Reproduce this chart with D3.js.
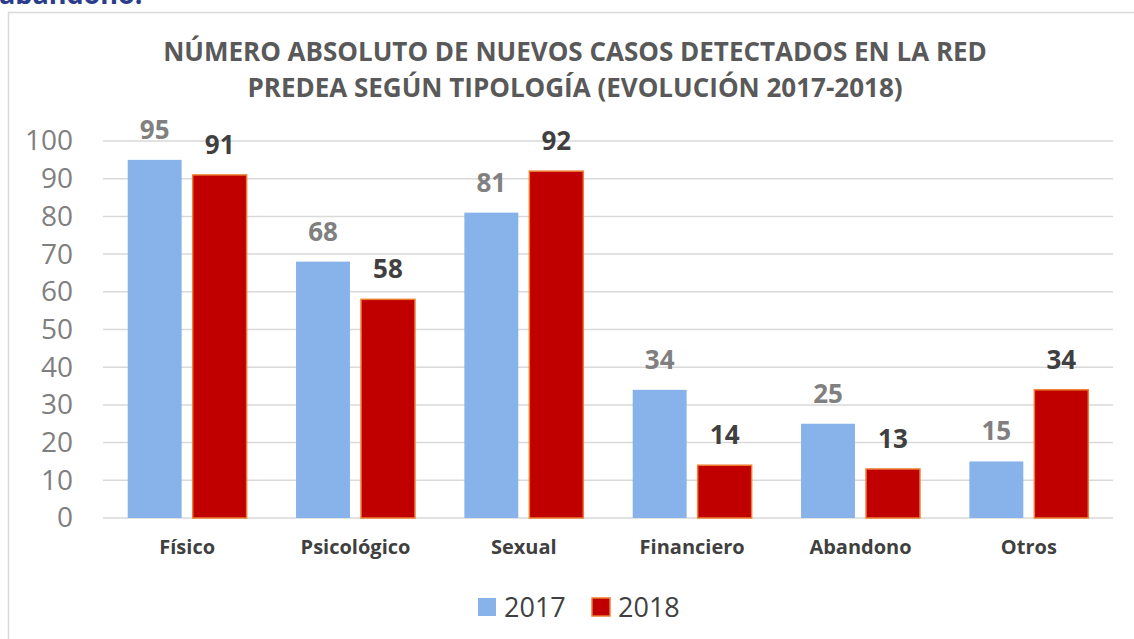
<!DOCTYPE html>
<html>
<head>
<meta charset="utf-8">
<script src="https://cdn.jsdelivr.net/npm/d3@7"></script>
<style>
  html, body { margin: 0; padding: 0; background: #fff; }
  svg { display: block; font-family: 'Open Sans', sans-serif; }
</style>
</head>
<body>
<div id="chart"></div>
<script>
// chart data
const categories = ['Físico', 'Psicológico', 'Sexual', 'Financiero', 'Abandono', 'Otros'];
const seriesNames = ['2017', '2018'];
const values2017 = [95, 68, 81, 34, 25, 15];
const values2018 = [91, 58, 92, 14, 13, 34];
const yTicks = [0, 10, 20, 30, 40, 50, 60, 70, 80, 90, 100];
const titleLines = ['NÚMERO ABSOLUTO DE NUEVOS CASOS DETECTADOS EN LA RED', 'PREDEA SEGÚN TIPOLOGÍA (EVOLUCIÓN 2017-2018)'];

const width = 1134, height = 639;
const plot = {left: 103, right: 1113, top: 141, bottom: 518};

const fill = {'2017': '#88B3EA', '2018': '#C00000'};
const labelColor = {'2017': '#808080', '2018': '#404040'};

const svg = d3.select('#chart').append('svg')
    .attr('width', width)
    .attr('height', height);

// leftover text from the page above the chart (cut off at the top, as in the source)
svg.append('text')
    .attr('x', -1)
    .attr('y', 4)
    .style('font-size', '27px')
    .style('font-weight', 'bold')
    .style('fill', '#2B3C8C')
    .text('abandono.');

// chart border
svg.append('rect')
    .attr('x', 8.5)
    .attr('y', 12.5)
    .attr('width', 1140)
    .attr('height', 650)
    .style('fill', 'none')
    .style('stroke', '#D9D9D9')
    .style('stroke-width', '1.5px');

// title
svg.append('g').selectAll('text')
    .data(titleLines)
    .enter()
    .append('text')
    .attr('x', 575)
    .attr('y', (d, i) => 61 + i * 36)
    .style('text-anchor', 'middle')
    .style('font-size', '26px')
    .style('font-weight', 'bold')
    .style('fill', '#595959')
    .text(d => d);

let x0 = d3.scaleBand()
    .domain(categories)
    .range([plot.left, plot.right]);

let x1 = d3.scaleBand()
    .domain(seriesNames)
    .range([0, x0.bandwidth()])
    .paddingInner(0.17)
    .paddingOuter(0.38);

let ys = d3.scaleLinear()
    .domain([0, 100])
    .range([plot.bottom, plot.top]);

// gridlines
svg.append('g').selectAll('line')
    .data(yTicks)
    .enter()
    .append('line')
    .attr('x1', plot.left)
    .attr('x2', plot.right)
    .attr('y1', d => ys(d))
    .attr('y2', d => ys(d))
    .style('stroke', '#D9D9D9')
    .style('stroke-width', '1.5px');

// y axis labels
let yAxis = d3.axisLeft(ys).tickValues(yTicks).tickSize(0).tickPadding(0);
let yg = svg.append('g')
    .attr('transform', 'translate(73, 0)')
    .call(yAxis);
yg.select('.domain').remove();
yg.selectAll('text')
    .style('font-family', "'Open Sans', sans-serif")
    .style('font-size', '28px')
    .style('fill', '#7F7F7F');

// x axis labels
let xAxis = d3.axisBottom(x0).tickSize(0).tickPadding(0);
let xg = svg.append('g')
    .attr('transform', 'translate(0, 540)')
    .call(xAxis);
xg.select('.domain').remove();
xg.selectAll('text')
    .style('font-family', "'Open Sans', sans-serif")
    .style('font-size', '20px')
    .style('font-weight', 'bold')
    .style('fill', '#404040');

const rows = categories.map((c, i) => ({
    cat: c,
    vals: [
        {key: '2017', value: values2017[i]},
        {key: '2018', value: values2018[i]}
    ]
}));

let groups = svg.append('g').selectAll('g')
    .data(rows)
    .enter()
    .append('g')
    .attr('transform', d => 'translate(' + x0(d.cat) + ', 0)');

groups.selectAll('rect')
    .data(d => d.vals)
    .enter()
    .append('rect')
    .attr('x', d => x1(d.key))
    .attr('y', d => ys(d.value))
    .attr('width', x1.bandwidth())
    .attr('height', d => ys(0) - ys(d.value))
    .style('fill', d => fill[d.key])
    .style('stroke', d => d.key === '2018' ? '#ED7D31' : 'none')
    .style('stroke-width', '1.5px');

groups.selectAll('text')
    .data(d => d.vals)
    .enter()
    .append('text')
    .attr('x', d => x1(d.key) + x1.bandwidth() / 2)
    .attr('y', d => ys(d.value) - 21)
    .style('text-anchor', 'middle')
    .style('font-size', '26px')
    .style('font-weight', 'bold')
    .style('fill', d => labelColor[d.key])
    .text(d => d.value);

// legend
let legendX = [478, 592];
let legend = svg.append('g').selectAll('g')
    .data(seriesNames)
    .enter()
    .append('g')
    .attr('transform', (d, i) => 'translate(' + legendX[i] + ', 598)');

legend.append('rect')
    .attr('width', 18)
    .attr('height', 18)
    .style('fill', d => fill[d])
    .style('stroke', d => d === '2018' ? '#ED7D31' : 'none')
    .style('stroke-width', '1.5px');

legend.append('text')
    .attr('x', 26)
    .attr('y', 19)
    .style('font-size', '27px')
    .style('fill', '#404040')
    .text(d => d);
</script>
</body>
</html>
